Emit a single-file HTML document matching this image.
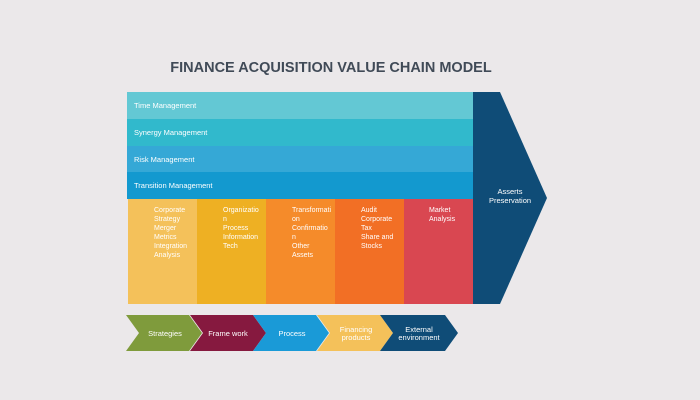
<!DOCTYPE html>
<html><head><style>
body{margin:0;width:700px;height:400px;background:#ebe8ea;font-family:"Liberation Sans",sans-serif;position:relative;overflow:hidden}
.t{position:absolute;left:0;width:662px;top:60px;text-align:center;font-size:14.5px;font-weight:bold;color:#404a57}
.b{position:absolute;left:127px;width:346px;height:27px;color:#fff;font-size:7.5px;line-height:27px;padding-left:7px;box-sizing:border-box}
.c{position:absolute;top:199px;height:105px;width:69px;color:#fff;font-size:7px;line-height:9px;padding-top:7px;box-sizing:border-box}
</style></head><body>
<div class="t">FINANCE ACQUISITION VALUE CHAIN MODEL</div>
<div class="b" style="top:92px;background:#63c8d4">Time Management</div>
<div class="b" style="top:119px;background:#31b9cc">Synergy Management</div>
<div class="b" style="top:146px;height:26px;background:#35a8d6">Risk Management</div>
<div class="b" style="top:172px;background:#1399cf">Transition Management</div>
<div class="c" style="left:128px;background:#f4c15a;padding-left:26px">Corporate<br>Strategy<br>Merger<br>Metrics<br>Integration<br>Analysis</div>
<div class="c" style="left:197px;background:#eeb023;padding-left:26px">Organizatio<br>n<br>Process<br>Information<br>Tech</div>
<div class="c" style="left:266px;background:#f58b2a;padding-left:26px">Transformati<br>on<br>Confirmatio<br>n<br>Other<br>Assets</div>
<div class="c" style="left:335px;background:#f26f25;padding-left:26px">Audit<br>Corporate<br>Tax<br>Share and<br>Stocks</div>
<div class="c" style="left:404px;background:#d94751;padding-left:25px">Market<br>Analysis</div>
<svg width="700" height="400" style="position:absolute;left:0;top:0">
<polygon points="473,92 500,92 547,198 500,304 473,304" fill="#0f4c77"/>
<text x="510" y="194" fill="#fff" font-size="7.5" text-anchor="middle" font-family="Liberation Sans">Asserts</text>
<text x="510" y="203" fill="#fff" font-size="7.5" text-anchor="middle" font-family="Liberation Sans">Preservation</text>
<g font-family="Liberation Sans" font-size="7.5" fill="#fff" text-anchor="middle">
<polygon points="126,315 189,315 202,333 189,351 126,351 139,333" fill="#7f9b3c"/>
<text x="165" y="336">Strategies</text>
<polygon points="190,315 253,315 266,333 253,351 190,351 203,333" fill="#86193f"/>
<text x="228" y="336">Frame work</text>
<polygon points="253,315 316,315 329,333 316,351 253,351 266,333" fill="#1a9ad7"/>
<text x="292" y="336">Process</text>
<polygon points="317,315 380,315 393,333 380,351 317,351 330,333" fill="#f4c15a"/>
<text x="356" y="332">Financing</text><text x="356" y="340">products</text>
<polygon points="380,315 445,315 458,333 445,351 380,351 393,333" fill="#0f4c77"/>
<text x="419" y="332">External</text><text x="419" y="340">environment</text>
</g>
</svg>
</body></html>
